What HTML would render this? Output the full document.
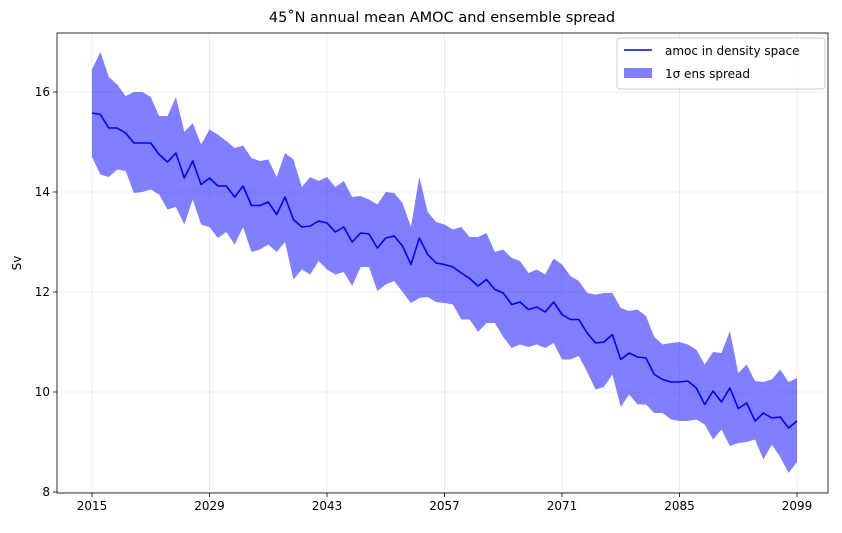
<!DOCTYPE html>
<html><head><meta charset="utf-8"><style>
body{margin:0;background:#fff;font-family:"Liberation Sans","DejaVu Sans",sans-serif}
svg text{font-family:"DejaVu Sans","Liberation Sans",sans-serif}
</style></head><body>
<svg id="chart" width="842" height="528" viewBox="0 0 842 528"></svg>
<script>
const years=[];for(let y=2015;y<=2099;y++)years.push(y);
const meanVals=[15.58,15.55,15.28,15.28,15.18,14.98,14.98,14.98,14.75,14.6,14.78,14.28,14.62,14.15,14.28,14.12,14.12,13.9,14.12,13.73,13.73,13.8,13.55,13.9,13.45,13.3,13.32,13.42,13.38,13.2,13.3,13.0,13.18,13.16,12.88,13.08,13.12,12.92,12.55,13.08,12.75,12.58,12.55,12.5,12.38,12.27,12.12,12.25,12.05,11.98,11.75,11.8,11.65,11.7,11.6,11.8,11.55,11.45,11.45,11.18,10.98,11.0,11.15,10.65,10.78,10.7,10.68,10.35,10.25,10.2,10.2,10.22,10.08,9.75,10.02,9.8,10.08,9.67,9.78,9.42,9.58,9.48,9.5,9.28,9.42];
const upperVals=[16.45,16.8,16.3,16.15,15.92,16.0,16.0,15.9,15.52,15.52,15.9,15.2,15.38,14.95,15.25,15.15,15.02,14.88,14.93,14.68,14.62,14.65,14.3,14.78,14.65,14.1,14.3,14.22,14.3,14.1,14.22,13.9,13.92,13.85,13.75,14.0,13.98,13.78,13.3,14.3,13.6,13.4,13.35,13.25,13.3,13.1,13.1,13.18,12.8,12.85,12.68,12.62,12.38,12.45,12.35,12.67,12.55,12.32,12.22,11.98,11.95,11.98,11.98,11.68,11.62,11.65,11.52,11.1,10.95,10.98,11.0,10.95,10.85,10.55,10.8,10.78,11.22,10.38,10.55,10.22,10.2,10.25,10.45,10.2,10.28];
const lowerVals=[14.7,14.35,14.3,14.45,14.42,13.98,14.0,14.05,13.95,13.65,13.7,13.35,13.85,13.35,13.3,13.08,13.2,12.95,13.3,12.8,12.85,12.95,12.8,13.0,12.25,12.45,12.35,12.62,12.45,12.35,12.4,12.12,12.5,12.5,12.02,12.15,12.22,12.0,11.78,11.88,11.9,11.8,11.78,11.75,11.45,11.45,11.2,11.38,11.38,11.1,10.88,10.95,10.9,10.95,10.88,10.98,10.65,10.65,10.72,10.4,10.05,10.1,10.35,9.7,9.95,9.75,9.75,9.58,9.58,9.45,9.42,9.42,9.45,9.35,9.05,9.25,8.92,8.98,9.0,9.05,8.65,8.95,8.7,8.38,8.6];
const xTicks=[2015,2029,2043,2057,2071,2085,2099];
const yTicks=[8,10,12,14,16];

const L=57,T=33,R=828,B=493;
const X=v=>92+(v-2015)*(797-92)/84;
const Y=v=>492-(v-8)*50;
const NS="http://www.w3.org/2000/svg";
const svg=document.getElementById('chart');
function mk(tag,attrs,parent){const e=document.createElementNS(NS,tag);for(const k in attrs)e.setAttribute(k,attrs[k]);(parent||svg).appendChild(e);return e;}

const grid=mk('g',{});


xTicks.forEach(t=>{mk('line',{x1:X(t),x2:X(t),y1:T,y2:B,stroke:'#b0b0b0','stroke-opacity':0.3,'stroke-width':0.8},grid);});
yTicks.forEach(t=>{mk('line',{x1:L,x2:R,y1:Y(t),y2:Y(t),stroke:'#b0b0b0','stroke-opacity':0.3,'stroke-width':0.8},grid);});

let d='';
years.forEach((y,i)=>{d+=(i?'L':'M')+X(y).toFixed(2)+','+Y(upperVals[i]).toFixed(2);});
for(let i=years.length-1;i>=0;i--)d+='L'+X(years[i]).toFixed(2)+','+Y(lowerVals[i]).toFixed(2);
const band=mk('path',{d:d+'Z',fill:'#0000ff','fill-opacity':0.5,stroke:'none'});



const pts=years.map((y,i)=>X(y).toFixed(2)+','+Y(meanVals[i]).toFixed(2)).join(' ');
const line=mk('polyline',{points:pts,fill:'none',stroke:'#0000ff','stroke-width':1.6,'stroke-linejoin':'round'});



const frame=mk('rect',{x:L,y:T,width:R-L,height:B-T,fill:'none',stroke:'#000','stroke-width':0.8});



xTicks.forEach(t=>{
  mk('line',{x1:X(t),x2:X(t),y1:B,y2:B+4,stroke:'#000','stroke-width':0.8});
  const tx=mk('text',{x:X(t),y:B+17,'text-anchor':'middle','font-size':12,fill:'#000'});
  tx.textContent=t;
  
  
});
yTicks.forEach(t=>{
  mk('line',{x1:L-4,x2:L,y1:Y(t),y2:Y(t),stroke:'#000','stroke-width':0.8});
  const tx=mk('text',{x:L-7,y:Y(t)+4,'text-anchor':'end','font-size':12,fill:'#000'});
  tx.textContent=t;
  
  
});
const yl=mk('text',{x:21,y:263,'text-anchor':'middle','font-size':12,transform:'rotate(-90 21 263)'});
yl.textContent='Sv';


const ti=mk('text',{x:442,y:22,'text-anchor':'middle','font-size':14.5});
ti.textContent='45\u02daN annual mean AMOC and ensemble spread';



const lg=mk('g',{});


mk('rect',{x:617,y:38,width:208,height:51,rx:3,fill:'#fff','fill-opacity':0.8,stroke:'#cccccc'},lg);
mk('line',{x1:624,x2:652,y1:50,y2:50,stroke:'#0000ff','stroke-width':1.6},lg);
const l1=mk('text',{x:665,y:55,'font-size':12},lg);l1.textContent='amoc in density space';


mk('rect',{x:624,y:68,width:28,height:10,fill:'#0000ff','fill-opacity':0.5},lg);
const l2=mk('text',{x:665,y:78,'font-size':12},lg);l2.textContent='1\u03c3 ens spread';


</script>
</body></html>
